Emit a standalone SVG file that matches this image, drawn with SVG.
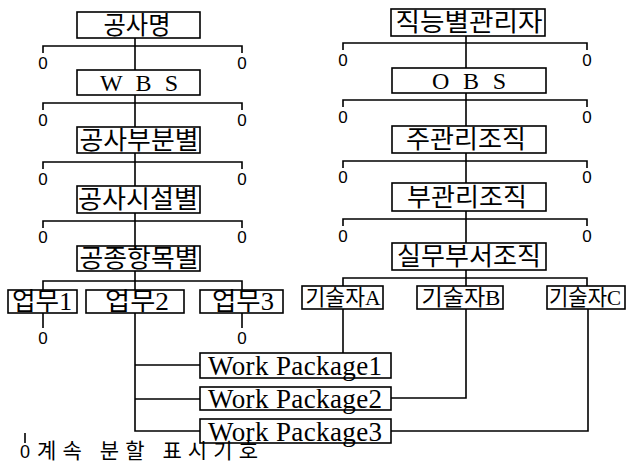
<svg xmlns="http://www.w3.org/2000/svg" width="626" height="471" viewBox="0 0 626 471">
<style>
.box{fill:#fff;stroke:#000;stroke-width:1.6}
.ln{fill:none;stroke:#000;stroke-width:1.6}
.k{font-family:"Liberation Serif","Noto Sans CJK KR",serif;font-size:25px;fill:#000;text-anchor:middle}
.g{font-size:22px}
.l{font-family:"Liberation Serif",serif;font-size:24px;fill:#000;text-anchor:middle}
.wp{font-family:"Liberation Serif",serif;font-size:27px;fill:#000}
.z{font-family:"Liberation Sans",sans-serif;font-size:17px;fill:#000;text-anchor:middle}
.lg{font-family:"Liberation Sans","Noto Sans CJK KR",sans-serif;font-size:21px;fill:#000}
</style>
<rect width="626" height="471" fill="#fff"/>
<g id="connectors">
<path class="ln" d="M135 38V70M135 95V127M135 153V186M135 213V246M135 271V290"/>
<path class="ln" d="M43 53V46H242V53M43 110V103H242V110M43 169V162H242V169M43 228V221H242V228"/>
<path class="ln" d="M43 290V281H242V290"/>
<path class="ln" d="M466 36V68M466 93V126M466 153V183M466 211V243M466 270V286"/>
<path class="ln" d="M343 50V43H587V50M343 107V100H587V107M343 168V161H587V168M343 226V219H587V226"/>
<path class="ln" d="M343 286V278H587V286"/>
<path class="ln" d="M43 313V328M242 313V328"/>
<path class="ln" d="M135 313V431H200M135 365H200M135 399H200"/>
<path class="ln" d="M343 309V353"/>
<path class="ln" d="M466 309V398H391"/>
<path class="ln" d="M588 309V431H391"/>
<path class="ln" d="M25 433V443"/>
</g>
<g id="zeros">
<text class="z" x="43" y="69">0</text><text class="z" x="242" y="69">0</text>
<text class="z" x="43" y="126">0</text><text class="z" x="242" y="126">0</text>
<text class="z" x="43" y="185">0</text><text class="z" x="242" y="185">0</text>
<text class="z" x="43" y="243">0</text><text class="z" x="242" y="243">0</text>
<text class="z" x="343" y="66">0</text><text class="z" x="587" y="66">0</text>
<text class="z" x="343" y="123">0</text><text class="z" x="587" y="123">0</text>
<text class="z" x="343" y="183">0</text><text class="z" x="587" y="183">0</text>
<text class="z" x="343" y="242">0</text><text class="z" x="587" y="242">0</text>
<text class="z" x="43" y="344">0</text><text class="z" x="242" y="344">0</text>
</g>
<g id="n-gongsamyeong"><rect class="box" x="77" y="12" width="123" height="26"/><text class="k" x="137" y="34" textLength="67" lengthAdjust="spacingAndGlyphs">공사명</text></g>
<g id="n-wbs"><rect class="box" x="77" y="70" width="123" height="25"/><text class="l" x="139" y="91" textLength="78" lengthAdjust="spacing">W B S</text></g>
<g id="n-bubun"><rect class="box" x="77" y="127" width="123" height="26"/><text class="k" x="139" y="149" textLength="119" lengthAdjust="spacingAndGlyphs">공사부분별</text></g>
<g id="n-siseol"><rect class="box" x="77" y="186" width="123" height="27"/><text class="k" x="138" y="208" textLength="120" lengthAdjust="spacingAndGlyphs">공사시설별</text></g>
<g id="n-gongjong"><rect class="box" x="77" y="246" width="123" height="25"/><text class="k" x="139" y="267" textLength="119" lengthAdjust="spacingAndGlyphs">공종항목별</text></g>
<g id="n-upmu1"><rect class="box" x="8" y="290" width="69" height="23"/><text class="k" x="42" y="310" textLength="60" lengthAdjust="spacingAndGlyphs">업무1</text></g>
<g id="n-upmu2"><rect class="box" x="86" y="290" width="98" height="23"/><text class="k" x="137" y="310" textLength="64" lengthAdjust="spacingAndGlyphs">업무2</text></g>
<g id="n-upmu3"><rect class="box" x="200" y="290" width="83" height="23"/><text class="k" x="243" y="310" textLength="62" lengthAdjust="spacingAndGlyphs">업무3</text></g>
<g id="n-jikneung"><rect class="box" x="391" y="9" width="154" height="27"/><text class="k" x="469" y="31" textLength="147" lengthAdjust="spacingAndGlyphs">직능별관리자</text></g>
<g id="n-obs"><rect class="box" x="392" y="68" width="154" height="25"/><text class="l" x="469" y="89" textLength="74" lengthAdjust="spacing">O B S</text></g>
<g id="n-jugwanri"><rect class="box" x="392" y="126" width="154" height="27"/><text class="k" x="466" y="148" textLength="120" lengthAdjust="spacingAndGlyphs">주관리조직</text></g>
<g id="n-bugwanri"><rect class="box" x="392" y="183" width="154" height="28"/><text class="k" x="467" y="206" textLength="120" lengthAdjust="spacingAndGlyphs">부관리조직</text></g>
<g id="n-silmu"><rect class="box" x="392" y="243" width="154" height="27"/><text class="k" x="469" y="265" textLength="144" lengthAdjust="spacingAndGlyphs">실무부서조직</text></g>
<g id="n-gisulA"><rect class="box" x="302" y="286" width="81" height="23"/><text class="k g" x="343" y="305" textLength="75" lengthAdjust="spacingAndGlyphs">기술자A</text></g>
<g id="n-gisulB"><rect class="box" x="417" y="286" width="86" height="23"/><text class="k g" x="461" y="305" textLength="79" lengthAdjust="spacingAndGlyphs">기술자B</text></g>
<g id="n-gisulC"><rect class="box" x="547" y="286" width="78" height="23"/><text class="k g" x="585" y="305" textLength="72" lengthAdjust="spacingAndGlyphs">기술자C</text></g>
<g id="n-wp1"><rect class="box" x="200" y="353" width="191" height="25"/><text class="wp" x="208" y="375" textLength="174" lengthAdjust="spacing">Work Package1</text></g>
<g id="n-wp2"><rect class="box" x="200" y="387" width="191" height="23"/><text class="wp" x="208" y="408" textLength="174" lengthAdjust="spacing">Work Package2</text></g>
<g id="n-wp3"><rect class="box" x="200" y="419" width="191" height="24"/><text class="wp" x="208" y="441" textLength="174" lengthAdjust="spacing">Work Package3</text></g>
<g id="legend"><text class="z" x="25" y="458" style="font-size:18px">0</text><text class="lg" x="37" y="458" textLength="221" lengthAdjust="spacing">계속 분할 표시기호</text></g>
</svg>
